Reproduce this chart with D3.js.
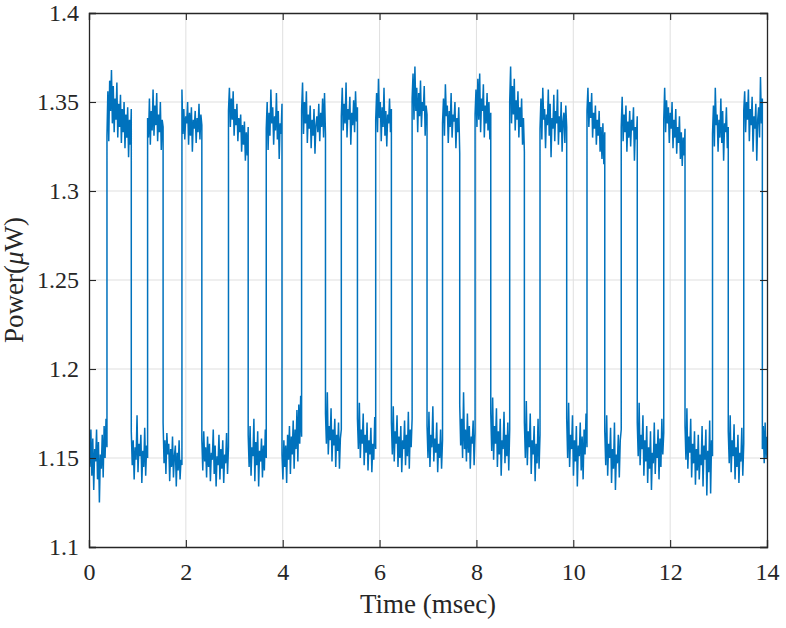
<!DOCTYPE html>
<html>
<head>
<meta charset="utf-8">
<script src="https://cdn.jsdelivr.net/npm/d3@7"></script>
<style>
    body { margin: 0; background: #ffffff; }
    svg text { font-family: "Liberation Serif"; fill: #262626; }
</style>
</head>
<body>
<svg id="chart" width="786" height="628"></svg>
<script>
// Tick values
var xTicks = [0, 2, 4, 6, 8, 10, 12, 14];
var yTicks = [1.1, 1.15, 1.2, 1.25, 1.3, 1.35, 1.4];

// Edges of the pulses (msec)
var riseTimes = [0.371, 1.21, 1.919, 2.88, 3.66, 4.39, 5.21, 5.92, 6.672, 7.30, 7.972, 8.687, 9.313, 10.283, 10.99, 11.868, 12.875, 13.52];
var fallTimes = [0.873, 1.53, 2.33, 3.287, 3.985, 4.883, 5.543, 6.244, 6.98, 7.655, 8.296, 8.99, 9.864, 10.65, 11.321, 12.307, 13.2, 13.904];

var lowSamples = [
    [1.158, 1.145, 1.166, 1.140, 1.161, 1.132, 1.155, 1.148, 1.166, 1.138, 1.159, 1.125, 1.152, 1.144, 1.163, 1.139, 1.168, 1.150, 1.172, 1.156],
    [1.165, 1.146, 1.160, 1.138, 1.156, 1.149, 1.174, 1.142, 1.158, 1.151, 1.163, 1.136, 1.154, 1.145, 1.167, 1.140, 1.157, 1.150],
    [1.170, 1.147, 1.160, 1.141, 1.164, 1.152, 1.158, 1.137, 1.155, 1.145, 1.162, 1.139, 1.151, 1.157, 1.134, 1.153, 1.143, 1.160, 1.138, 1.149, 1.146],
    [1.160, 1.143, 1.165, 1.148, 1.156, 1.139, 1.162, 1.145, 1.158, 1.137, 1.153, 1.149, 1.166, 1.141, 1.157, 1.134, 1.151, 1.146, 1.163, 1.138, 1.155, 1.144, 1.160, 1.136, 1.152, 1.147, 1.164, 1.141, 1.156],
    [1.163, 1.145, 1.168, 1.140, 1.156, 1.151, 1.172, 1.137, 1.159, 1.146, 1.165, 1.134, 1.154, 1.148, 1.161, 1.139, 1.157, 1.143, 1.166, 1.150],
    [1.152, 1.138, 1.160, 1.145, 1.157, 1.136, 1.163, 1.149, 1.168, 1.141, 1.162, 1.152, 1.171, 1.144, 1.166, 1.155, 1.177, 1.148, 1.180, 1.158, 1.185, 1.162],
    [1.175, 1.158, 1.187, 1.152, 1.168, 1.160, 1.178, 1.148, 1.166, 1.157, 1.172, 1.145, 1.163, 1.154, 1.170, 1.144, 1.161, 1.166],
    [1.172, 1.155, 1.181, 1.150, 1.166, 1.158, 1.175, 1.146, 1.163, 1.153, 1.170, 1.143, 1.160, 1.152, 1.167, 1.142, 1.158, 1.149, 1.173, 1.155],
    [1.170, 1.152, 1.179, 1.148, 1.165, 1.158, 1.174, 1.145, 1.162, 1.150, 1.168, 1.142, 1.160, 1.155, 1.171, 1.146, 1.163, 1.151, 1.176, 1.144, 1.166, 1.156, 1.172],
    [1.168, 1.150, 1.176, 1.145, 1.163, 1.156, 1.179, 1.148, 1.161, 1.153, 1.170, 1.142, 1.158, 1.150, 1.166, 1.144, 1.160],
    [1.180, 1.157, 1.172, 1.150, 1.187, 1.155, 1.166, 1.148, 1.175, 1.153, 1.168, 1.144, 1.162, 1.158, 1.171, 1.146, 1.164],
    [1.175, 1.154, 1.184, 1.149, 1.168, 1.158, 1.178, 1.145, 1.165, 1.152, 1.172, 1.140, 1.160, 1.155, 1.176, 1.147, 1.163, 1.151, 1.170, 1.143, 1.166],
    [1.170, 1.150, 1.182, 1.146, 1.165, 1.156, 1.175, 1.141, 1.160, 1.152, 1.168, 1.137, 1.158, 1.147, 1.172, 1.144, 1.163],
    [1.172, 1.150, 1.181, 1.145, 1.163, 1.155, 1.174, 1.140, 1.160, 1.148, 1.168, 1.134, 1.157, 1.151, 1.170, 1.143, 1.162, 1.138, 1.166, 1.152, 1.175, 1.156],
    [1.165, 1.146, 1.174, 1.140, 1.158, 1.150, 1.167, 1.136, 1.155, 1.144, 1.170, 1.132, 1.152, 1.147, 1.163, 1.139, 1.160, 1.166],
    [1.170, 1.151, 1.181, 1.146, 1.163, 1.155, 1.174, 1.140, 1.160, 1.148, 1.168, 1.136, 1.156, 1.144, 1.165, 1.132, 1.153, 1.147, 1.170, 1.141, 1.158, 1.150, 1.166, 1.138, 1.161, 1.145, 1.172, 1.152, 1.164],
    [1.168, 1.149, 1.178, 1.144, 1.162, 1.153, 1.172, 1.139, 1.158, 1.147, 1.165, 1.135, 1.155, 1.143, 1.163, 1.138, 1.152, 1.146, 1.168, 1.134, 1.157, 1.149, 1.166, 1.129, 1.154, 1.142, 1.171, 1.130, 1.160, 1.151],
    [1.165, 1.147, 1.174, 1.142, 1.160, 1.151, 1.169, 1.138, 1.156, 1.145, 1.163, 1.136, 1.153, 1.148, 1.167, 1.140, 1.158],
    [1.155, 1.168, 1.147, 1.170, 1.150, 1.162]
];

// Power (uW)
var highSamples = [
    [1.331, 1.356, 1.328, 1.362, 1.345, 1.368, 1.338, 1.359, 1.333, 1.352, 1.340, 1.361, 1.330, 1.349, 1.336, 1.354, 1.327, 1.346, 1.333, 1.350, 1.324, 1.343, 1.330, 1.347, 1.319, 1.340, 1.326, 1.346],
    [1.341, 1.330, 1.352, 1.326, 1.345, 1.334, 1.357, 1.331, 1.348, 1.337, 1.355, 1.328, 1.343, 1.333, 1.350, 1.323, 1.340, 1.336],
    [1.357, 1.332, 1.346, 1.329, 1.342, 1.338, 1.350, 1.326, 1.344, 1.331, 1.347, 1.322, 1.340, 1.335, 1.345, 1.327, 1.341, 1.333, 1.349, 1.329, 1.343, 1.337],
    [1.345, 1.358, 1.336, 1.352, 1.340, 1.356, 1.331, 1.346, 1.337, 1.349, 1.328, 1.341, 1.333, 1.343, 1.322, 1.337, 1.326, 1.339, 1.317, 1.333, 1.320, 1.336],
    [1.335, 1.350, 1.323, 1.344, 1.331, 1.357, 1.338, 1.347, 1.326, 1.342, 1.334, 1.355, 1.329, 1.345, 1.318, 1.338, 1.332, 1.349],
    [1.345, 1.361, 1.332, 1.350, 1.338, 1.356, 1.327, 1.343, 1.335, 1.348, 1.324, 1.340, 1.331, 1.346, 1.321, 1.337, 1.342, 1.333, 1.349, 1.328, 1.344, 1.336, 1.352, 1.330, 1.355, 1.332],
    [1.342, 1.358, 1.334, 1.349, 1.338, 1.361, 1.330, 1.346, 1.340, 1.353, 1.326, 1.344, 1.337, 1.351, 1.333, 1.356, 1.339, 1.347],
    [1.340, 1.355, 1.333, 1.363, 1.341, 1.350, 1.328, 1.347, 1.336, 1.358, 1.331, 1.345, 1.325, 1.343, 1.338, 1.352, 1.333, 1.346],
    [1.352, 1.366, 1.340, 1.370, 1.345, 1.358, 1.333, 1.355, 1.342, 1.362, 1.336, 1.350, 1.345, 1.359, 1.331, 1.348, 1.343],
    [1.338, 1.352, 1.331, 1.360, 1.342, 1.348, 1.327, 1.345, 1.336, 1.355, 1.330, 1.343, 1.339, 1.350, 1.324, 1.341, 1.333, 1.347, 1.321],
    [1.343, 1.357, 1.336, 1.363, 1.340, 1.366, 1.333, 1.352, 1.345, 1.360, 1.330, 1.348, 1.338, 1.355, 1.334, 1.350, 1.329, 1.344],
    [1.350, 1.370, 1.338, 1.359, 1.343, 1.363, 1.334, 1.351, 1.340, 1.356, 1.330, 1.347, 1.336, 1.352, 1.326, 1.341, 1.322],
    [1.335, 1.352, 1.329, 1.358, 1.340, 1.346, 1.324, 1.343, 1.337, 1.357, 1.331, 1.349, 1.319, 1.341, 1.335, 1.354, 1.328, 1.345, 1.338, 1.357, 1.326, 1.342, 1.333, 1.350, 1.322, 1.339, 1.344, 1.327, 1.348, 1.336],
    [1.345, 1.358, 1.336, 1.350, 1.341, 1.355, 1.330, 1.344, 1.335, 1.348, 1.326, 1.340, 1.331, 1.345, 1.322, 1.336, 1.318, 1.338, 1.315, 1.333],
    [1.336, 1.353, 1.328, 1.343, 1.333, 1.348, 1.322, 1.339, 1.330, 1.345, 1.325, 1.340, 1.334, 1.347, 1.317, 1.336, 1.329, 1.342],
    [1.340, 1.358, 1.333, 1.351, 1.338, 1.347, 1.327, 1.344, 1.335, 1.350, 1.324, 1.340, 1.330, 1.346, 1.321, 1.336, 1.327, 1.342, 1.318, 1.333, 1.314, 1.330, 1.320, 1.335],
    [1.332, 1.348, 1.325, 1.358, 1.337, 1.343, 1.322, 1.340, 1.330, 1.352, 1.327, 1.345, 1.317, 1.338, 1.333, 1.347, 1.324, 1.336],
    [1.345, 1.356, 1.333, 1.350, 1.340, 1.357, 1.328, 1.346, 1.337, 1.353, 1.322, 1.342, 1.335, 1.349, 1.317, 1.340, 1.347, 1.330, 1.364, 1.338, 1.352]
];

// Layout
var style = {
    left: 89,
    right: 767,
    top: 13,
    bottom: 547,
    tickLength: 7,
    fontFamily: "Liberation Serif",
    tickFontSize: 24,
    labelFontSize: 27,
    axisColor: "#262626",
    gridColor: "#dfdfdf",
    lineColor: "#0072bd"
};

var svg = d3.select("#chart");

var x = d3.scaleLinear().domain([0, 14]).range([style.left, style.right]);
var y = d3.scaleLinear().domain([1.1, 1.4]).range([style.bottom, style.top]);

// Put the samples on a time base: each stretch spans its two edges
var series = [];
function addStretch(t0, t1, values) {
    var n = values.length;
    values.forEach(function(v, i) {
        series.push({ t: t0 + (t1 - t0) * i / (n - 1), p: v });
    });
}
lowSamples.forEach(function(values, k) {
    var start = k == 0 ? 0 : fallTimes[k - 1];
    var end = k < riseTimes.length ? riseTimes[k] : 14;
    addStretch(start, end, values);
    if (k < highSamples.length)
        addStretch(riseTimes[k], fallTimes[k], highSamples[k]);
});

// Grid
var grid = svg.append("g").attr("class", "grid");
grid.selectAll("line.gx")
    .data(xTicks.slice(1, -1))
    .enter().append("line")
    .attr("x1", function(d) { return x(d); })
    .attr("x2", function(d) { return x(d); })
    .attr("y1", style.top)
    .attr("y2", style.bottom)
    .attr("stroke", style.gridColor)
    .attr("stroke-width", 1);
grid.selectAll("line.gy")
    .data(yTicks.slice(1, -1))
    .enter().append("line")
    .attr("x1", style.left)
    .attr("x2", style.right)
    .attr("y1", function(d) { return y(d); })
    .attr("y2", function(d) { return y(d); })
    .attr("stroke", style.gridColor)
    .attr("stroke-width", 1);

// Signal
svg.append("clipPath").attr("id", "plotClip")
    .append("rect")
    .attr("x", style.left)
    .attr("y", style.top)
    .attr("width", style.right - style.left)
    .attr("height", style.bottom - style.top);

var line = d3.line()
    .x(function(d) { return x(d.t); })
    .y(function(d) { return y(d.p); });

svg.append("path")
    .datum(series)
    .attr("clip-path", "url(#plotClip)")
    .attr("fill", "none")
    .attr("stroke", style.lineColor)
    .attr("stroke-width", 1.5)
    .attr("stroke-linejoin", "bevel")
    .attr("d", line);

// Axes, ticks pointing inside, mirrored on the box
var bottomAxis = d3.axisBottom(x).tickValues(xTicks).tickSize(-style.tickLength).tickPadding(16).tickFormat(d3.format("d"));
var topAxis = d3.axisTop(x).tickValues(xTicks).tickSize(-style.tickLength).tickFormat("");
var leftAxis = d3.axisLeft(y).tickValues(yTicks).tickSize(-style.tickLength).tickPadding(10).tickFormat(function(d) { return String(+d.toFixed(2)); });
var rightAxis = d3.axisRight(y).tickValues(yTicks).tickSize(-style.tickLength).tickFormat("");

function styleAxis(g) {
    g.attr("font-family", style.fontFamily).attr("font-size", style.tickFontSize);
    g.select(".domain").attr("stroke", style.axisColor).attr("stroke-width", 1.3);
    g.selectAll(".tick line").attr("stroke", style.axisColor).attr("stroke-width", 1.1);
    g.selectAll(".tick text").attr("fill", style.axisColor);
}

svg.append("g").attr("transform", "translate(0," + style.bottom + ")").call(bottomAxis).call(styleAxis);
svg.append("g").attr("transform", "translate(0," + style.top + ")").call(topAxis).call(styleAxis);
svg.append("g").attr("transform", "translate(" + style.left + ",0)").call(leftAxis).call(styleAxis);
svg.append("g").attr("transform", "translate(" + style.right + ",0)").call(rightAxis).call(styleAxis);

// Axis labels
svg.append("text")
    .attr("x", (style.left + style.right) / 2)
    .attr("y", 613)
    .attr("text-anchor", "middle")
    .attr("font-family", style.fontFamily)
    .attr("font-size", style.labelFontSize)
    .text("Time (msec)");

var yLabel = svg.append("text")
    .attr("transform", "translate(23," + ((style.top + style.bottom) / 2) + ") rotate(-90)")
    .attr("text-anchor", "middle")
    .attr("font-family", style.fontFamily)
    .attr("font-size", style.labelFontSize);
yLabel.append("tspan").text("Power(");
yLabel.append("tspan").attr("font-style", "italic").text("\u03bc");
yLabel.append("tspan").text("W)");
</script>
</body>
</html>
